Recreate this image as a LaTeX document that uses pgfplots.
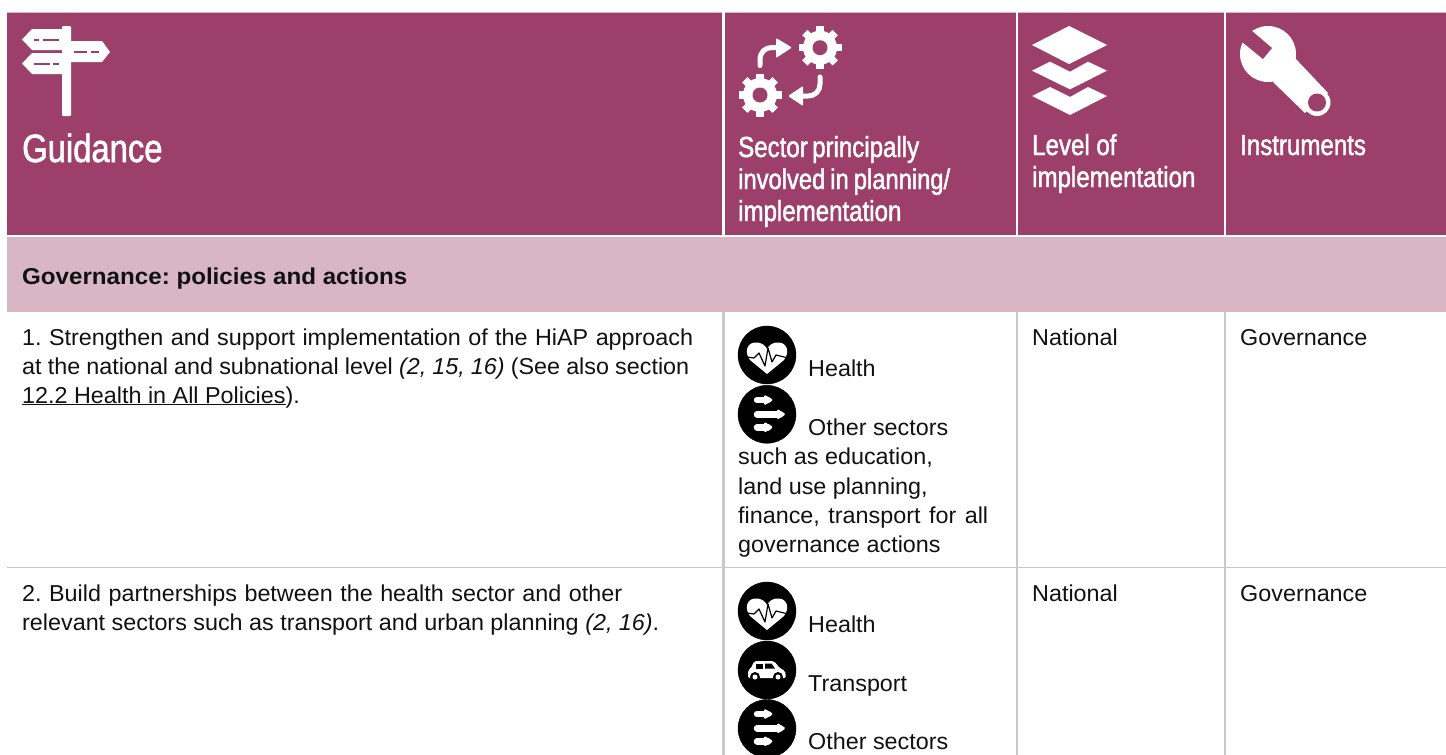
\documentclass[border=0pt]{standalone}
\usepackage{fontspec}
\usepackage{pgfplots}
\pgfplotsset{compat=1.18}
\setmainfont{Liberation Sans}
\newfontfamily\bodyf[FakeStretch=1.015]{Liberation Sans}
\newfontfamily\boldf[FakeStretch=1.05]{Liberation Sans Bold}
\newfontfamily\headf[FakeStretch=0.83,FakeBold=1.5]{Liberation Sans}
\definecolor{hdr}{HTML}{9C406B}
\definecolor{band}{HTML}{D8B6C4}
\definecolor{rule}{HTML}{C9C9C9}
\definecolor{ink}{HTML}{111111}
\frenchspacing
\newcommand\lw[2]{\hbox to #1pt{\spaceskip=0.27em plus 1em minus 0.2em #2}}
\newcommand\body[3]{\node[anchor=base west,inner sep=0pt,text=ink,font=\fontsize{23}{29}\selectfont\bodyf] at (axis cs:#1,#2) {#3};}
\newcommand\hd[4]{\node[anchor=base west,inner sep=0pt,text=white,font=\fontsize{#4}{#4}\selectfont\headf] at (axis cs:#1,#2) {#3};}
\newcommand\heartshape{%
  \fill[white] (767,374) -- (750,360) .. controls (744,352) and (747,343) .. (755,342.5)
    .. controls (761,342) and (765,345) .. (767,349)
    .. controls (769,345) and (773,342) .. (779,342.5)
    .. controls (787,343) and (790,352) .. (784,360) -- cycle;
  \draw[black,line width=1.2pt,line join=round] (747,357) -- (754,358) -- (759,353) -- (765,366) -- (768,348) -- (772,362) -- (776,355) -- (788,358);
}
\newcommand\sectorshape{%
  \begin{scope}[white,line width=6.5pt,line cap=round]
  \draw (757,400) -- (768,400);
  \draw (757,414.3) -- (780,414.3);
  \draw (757,427.3) -- (768,427.3);
  \end{scope}
  \fill[white,rounded corners=1.5pt] (764,394.5) -- (773.5,400) -- (764,405.5) -- cycle;
  \fill[white,rounded corners=1.5pt] (777,408.8) -- (786,414.3) -- (777,419.8) -- cycle;
  \fill[white,rounded corners=1.5pt] (764,421.8) -- (773.5,427.3) -- (764,432.8) -- cycle;
}
\newcommand\gearshape[2]{%
  \pgfplotsinvokeforeach{0,45,...,315}{\draw[white,line width=7.5pt] ({#1+14*cos(##1)},{#2+14*sin(##1)}) -- ({#1+21.5*cos(##1)},{#2+21.5*sin(##1)});}
  \fill[white] (#1,#2) circle[radius=17];
  \fill[hdr] (#1,#2) circle[radius=7.5];
}
\begin{document}
\begin{tikzpicture}
\begin{axis}[name=a,scale only axis,width=1446pt,height=755pt,xmin=0,xmax=1446,ymin=0,ymax=755,y dir=reverse,axis lines=none,clip mode=individual]
% header and band
\addplot[draw=none,fill=band] coordinates {(7,12)(1446,12)(1446,14)(7,14)} --cycle;
\addplot[draw=none,fill=hdr] coordinates {(7,13)(1446,13)(1446,234.5)(7,234.5)} --cycle;
\addplot[draw=none,fill=band] coordinates {(7,237)(1446,237)(1446,312)(7,312)} --cycle;
% header separators
\addplot[draw=none,fill=white] coordinates {(721.5,12)(724.5,12)(724.5,237)(721.5,237)} --cycle;
\addplot[draw=none,fill=white] coordinates {(1015.5,12)(1018.2,12)(1018.2,237)(1015.5,237)} --cycle;
\addplot[draw=none,fill=white] coordinates {(1223.5,12)(1226,12)(1226,237)(1223.5,237)} --cycle;
% body rules
\addplot[draw=none,fill=rule] coordinates {(721.7,312)(724.8,312)(724.8,755)(721.7,755)} --cycle;
\addplot[draw=none,fill=rule] coordinates {(1015.7,312)(1018.2,312)(1018.2,755)(1015.7,755)} --cycle;
\addplot[draw=none,fill=rule] coordinates {(1223.7,312)(1226.2,312)(1226.2,755)(1223.7,755)} --cycle;
\addplot[draw=none,fill=rule] coordinates {(7,566.8)(1446,566.8)(1446,568)(7,568)} --cycle;
% signpost
\fill[white,rounded corners=1pt] (62,26) rectangle (71,116);
\fill[white] (22,39.5) -- (32,29) -- (63,29) -- (63,50) -- (32,50) -- cycle;
\fill[white] (70,41) -- (102,41) -- (110,52) -- (102,62) -- (70,62) -- cycle;
\fill[white] (22,63.5) -- (32,53) -- (63,53) -- (63,74) -- (32,74) -- cycle;
\fill[hdr] (34,38.5) rectangle (39,40.8);
\fill[hdr] (43,38.5) rectangle (59,40.8);
\fill[hdr] (74,51) rectangle (87,53.3);
\fill[hdr] (91,51) rectangle (99,53.3);
\fill[hdr] (34,62.5) rectangle (50,64.8);
\fill[hdr] (53,62.5) rectangle (59,64.8);
% gears and arrows
\gearshape{820}{47.7}
\gearshape{760}{95}
\draw[white,line width=5pt,line cap=round] (760,65.5) -- (760,60) .. controls (760,52) and (765,47.5) .. (772,47.5) -- (778,47.5);
\fill[white,rounded corners=1pt] (776,38) -- (792,47.5) -- (776,58) -- cycle;
\draw[white,line width=5pt,line cap=round] (820,77) -- (820,84) .. controls (820,91) and (815,96) .. (808,96) -- (801,96);
\fill[white,rounded corners=1pt] (803,86) -- (788,96) -- (803,106) -- cycle;
% layers
\fill[white] (1069,26) -- (1107,45) -- (1069,64) -- (1032,45) -- cycle;
\fill[white] (1032,70.7) -- (1050,61.7) -- (1070,71.7) -- (1088,61.7) -- (1107,70.7) -- (1070,89.3) -- cycle;
\fill[white] (1032,96) -- (1050,87) -- (1070,97) -- (1088,87) -- (1107,96) -- (1070,115) -- cycle;
% wrench
\fill[white] (1268,54) circle[radius=28];
\fill[white] (1295,58) -- (1328,93) -- (1305,113) -- (1273,82) -- cycle;
\fill[white] (1317,102.5) circle[radius=13.5];
\fill[hdr] (1317,102.5) circle[radius=9];
\fill[hdr] (1252,31) -- (1272,48) -- (1263,59) -- (1242,42) -- (1226.5,30) -- (1236.5,18) -- cycle;
% header text
\hd{22}{162}{Guidance}{39.5}
\hd{738}{157}{\lw{181}{Sector principally}}{29}
\hd{738}{189}{\lw{212}{involved in planning/}}{28.6}
\hd{738}{221}{implementation}{29}
\hd{1032}{155}{Level of}{29}
\hd{1032}{187}{implementation}{29}
\hd{1240}{155}{Instruments}{29}
\node[anchor=base west,inner sep=0pt,text=ink,font=\fontsize{23}{29}\selectfont\boldf] at (axis cs:22,284) {Governance: policies and actions};
% row 1
\body{22}{345}{\lw{671}{1. Strengthen and support implementation of the HiAP approach}}
\body{22}{374}{\lw{667}{at the national and subnational level \textit{(2, 15, 16)} (See also section}}
\body{22}{403}{\underline{12.2 Health in All Policies}).}
\body{808}{376}{Health}
\body{808}{435}{Other sectors}
\body{738}{464}{such as education,}
\body{738}{494}{land use planning,}
\body{738}{523}{\lw{250}{finance, transport for all}}
\body{738}{552}{governance actions}
\body{1032}{345}{National}
\body{1240}{345}{Governance}
% row 2
\body{22}{601}{\lw{600}{2. Build partnerships between the health sector and other}}
\body{22}{630}{\lw{637}{relevant sectors such as transport and urban planning \textit{(2, 16)}.}}
\body{808}{632}{Health}
\body{808}{691}{Transport}
\body{808}{749}{Other sectors}
\body{1032}{601}{National}
\body{1240}{601}{Governance}
% icon discs
\addplot[only marks,mark=*,mark size=29pt,black,mark options={draw=none,fill=black}] coordinates {(767,355)(767,414.3)(767,611)(767,670)(767,728.5)};
\heartshape
\begin{scope}[yshift=-256pt]\heartshape\end{scope}
\sectorshape
\begin{scope}[yshift=-314pt]\sectorshape\end{scope}
% car
\fill[white,rounded corners=2pt] (748,678) -- (748,670) -- (751,668.5) -- (754,661) -- (774,661) -- (780,668.5) -- (785,670.5) -- (786,678) -- cycle;
\fill[black] (756,663.5) rectangle (763.3,668.5);
\fill[black] (765,663.5) -- (771.5,663.5) -- (775,668.5) -- (765,668.5) -- cycle;
\fill[black] (755,677) circle[radius=5];
\fill[white] (755,677) circle[radius=2.5];
\fill[black] (778,677) circle[radius=5];
\fill[white] (778,677) circle[radius=2.5];
\end{axis}
\pgfresetboundingbox
\path[use as bounding box] (a.south west) rectangle (a.north east);
\end{tikzpicture}
\end{document}
